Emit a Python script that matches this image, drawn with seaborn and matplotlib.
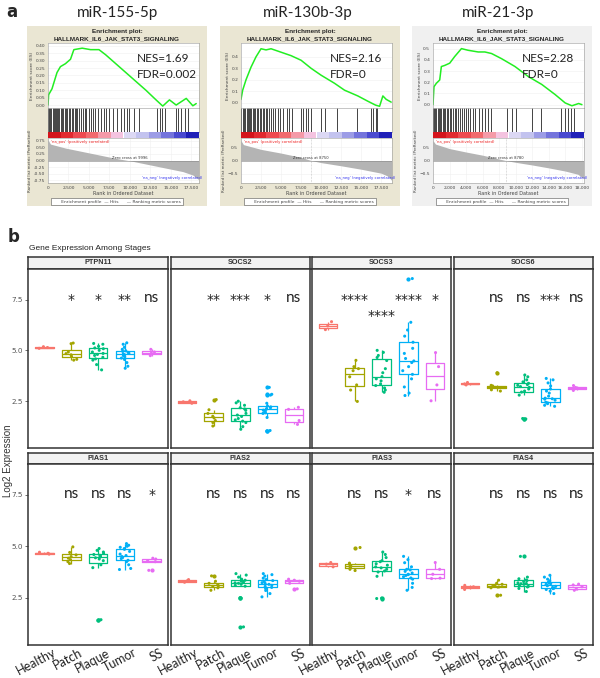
import numpy as np
import pandas as pd
import matplotlib
matplotlib.use("Agg")
import matplotlib.pyplot as plt
import matplotlib.transforms as mtransforms
import seaborn as sns

np.random.seed(7)  # only for strip jitter

W, H = 600, 678

# ---------------- panel a: GSEA data ----------------
gsea_titles = ["miR-155-5p", "miR-130b-3p", "miR-21-3p"]
gsea_nes = ["NES=1.69", "NES=2.16", "NES=2.28"]
gsea_fdr = ["FDR=0.002", "FDR=0", "FDR=0"]

es1_rank = [0, 80, 490, 1100, 1520, 2130, 2750, 3160, 4180, 5200, 6230, 7050,
            8690, 10330, 11970, 13200, 14020, 14840, 15660, 16890, 17700, 18110]
es1_score = [0.0, 0.07, 0.11, 0.22, 0.26, 0.28, 0.31, 0.375, 0.385, 0.375, 0.375, 0.34,
             0.26, 0.18, 0.10, 0.035, -0.007, 0.035, 0.0, 0.045, -0.005, 0.01]
es2_rank = [0, 210, 625, 1250, 1875, 2500, 3125, 3750, 5000, 6250, 7500, 8750,
            10000, 11670, 12920, 14580, 15830, 16800, 17300, 17710, 18125, 18750]
es2_score = [0.03, 0.11, 0.20, 0.31, 0.40, 0.47, 0.46, 0.47, 0.44, 0.41, 0.37, 0.30,
             0.24, 0.17, 0.11, 0.06, 0.014, -0.02, -0.03, 0.06, 0.03, 0.006]
es3_rank = [0, 120, 400, 810, 1010, 1420, 2020, 2630, 3440, 4250, 5460, 6270,
            7080, 8290, 9910, 11530, 13150, 14760, 15980, 16790, 17600, 18000]
es3_score = [0.0, 0.16, 0.19, 0.22, 0.34, 0.35, 0.37, 0.43, 0.50, 0.485, 0.47, 0.47,
             0.456, 0.41, 0.34, 0.25, 0.18, 0.09, 0.015, -0.01, 0.01, 0.0]

hits1 = [40, 150, 300, 420, 560, 700, 830, 980, 1100, 1250, 1400, 1560, 1700, 1880,
         2050, 2200, 2380, 2520, 2700, 2880, 3050, 3250, 3420, 3600, 3820, 4000, 4250,
         4480, 4700, 4950, 5250, 5500, 5800, 6150, 6450, 6800, 7100, 7500, 7900, 8400,
         8900, 9300, 9650, 9950, 10500, 11100, 13300, 13650, 13900, 14250, 15600,
         15900, 16300, 16700, 17150]
hits2 = [50, 200, 380, 520, 700, 860, 1000, 1150, 1300, 1480, 1650, 1800, 2000, 2150,
         2350, 2550, 2700, 2900, 3100, 3300, 3550, 3750, 4000, 4300, 4600, 4900, 5300,
         5700, 6000, 6400, 7500, 7800, 8100, 8400, 8800, 10000, 10500, 12000, 14500,
         16200, 16500, 16800, 17000]
hits3 = [40, 150, 280, 420, 560, 720, 860, 1000, 1180, 1350, 1500, 1680, 1850, 2000,
         2200, 2400, 2600, 2800, 3000, 3250, 3500, 3700, 3950, 4200, 4500, 4800, 5100,
         5500, 5900, 6300, 6700, 7000, 9000, 9500, 10000, 12000, 13000, 15500, 15900,
         16300, 16700, 17000]

metric1_rank = [0, 300, 2130, 4180, 6230, 8280, 10330, 12380, 14430, 16480, 17700, 18400]
metric1_val = [0.78, 0.62, 0.47, 0.34, 0.21, 0.08, -0.03, -0.16, -0.29, -0.42, -0.55, -0.72]
metric2_rank = [0, 300, 2500, 5000, 7500, 8750, 10000, 12500, 15000, 17500, 18400, 18800]
metric2_val = [0.75, 0.60, 0.42, 0.28, 0.12, 0.0, -0.08, -0.20, -0.33, -0.48, -0.60, -0.75]
metric3_rank = [0, 300, 2000, 4000, 6000, 8780, 10000, 12000, 14000, 16000, 17500, 18200]
metric3_val = [0.75, 0.62, 0.45, 0.32, 0.20, 0.0, -0.07, -0.17, -0.28, -0.40, -0.52, -0.68]

zero_cross = ["Zero cross at 9996", "Zero cross at 8750", "Zero cross at 8780"]
bar_colors = ["#d4141c", "#e22a30", "#ee4a50", "#f26a6e", "#f59aa8", "#f4c3e0",
              "#dcd8f4", "#c3c3ef", "#9c9ce6", "#7474dc", "#4a4ad0", "#2020b8"]

rank_ticks_a = [0, 2500, 5000, 7500, 10000, 12500, 15000, 17500]
rank_labels_a = ["0", "2,500", "5,000", "7,500", "10,000", "12,500", "15,000", "17,500"]
rank_ticks_b = [0, 2000, 4000, 6000, 8000, 10000, 12000, 14000, 16000, 18000]
rank_labels_b = ["0", "2,000", "4,000", "6,000", "8,000", "10,000", "12,000",
                 "14,000", "16,000", "18,000"]
es_ticks1 = [0.0, 0.05, 0.10, 0.15, 0.20, 0.25, 0.30, 0.35, 0.40]
es_ticks2 = [0.0, 0.1, 0.2, 0.3, 0.4]
es_ticks3 = [0.0, 0.1, 0.2, 0.3, 0.4, 0.5]
metric_ticks1 = [0.75, 0.50, 0.25, 0.0, -0.25, -0.50, -0.75]
metric_ticks2 = [0.5, 0.0, -0.5]

# ---------------- panel b: expression data ----------------
stages = ["Healthy", "Patch", "Plaque", "Tumor", "SS"]
stage_colors = ["#F8766D", "#A3A500", "#00BF7D", "#00B0F6", "#E76BF3"]
genes = ["PTPN11", "SOCS2", "SOCS3", "SOCS6", "PIAS1", "PIAS2", "PIAS3", "PIAS4"]

PTPN11 = {"Healthy": [5.10, 5.14, 5.18],
          "Patch": [4.52, 4.56, 4.70, 4.78, 4.84, 4.92, 5.33, 5.36],
          "Plaque": [4.04, 4.30, 4.52, 4.58, 4.66, 4.75, 4.80, 4.85, 4.92, 5.00, 5.08, 5.12, 5.20, 5.30, 5.34],
          "Tumor": [4.12, 4.22, 4.40, 4.55, 4.62, 4.68, 4.74, 4.78, 4.82, 4.86, 4.90, 4.95, 4.98, 5.05, 5.15, 5.30, 5.37],
          "SS": [4.74, 4.86, 4.92, 5.05]}
SOCS2 = {"Healthy": [2.40, 2.47, 2.52],
         "Patch": [1.28, 1.45, 1.55, 1.68, 1.76, 1.90, 2.08, 2.58],
         "Plaque": [1.12, 1.25, 1.45, 1.52, 1.58, 1.65, 1.75, 1.82, 1.90, 2.05, 2.12, 2.18, 2.30, 2.42, 2.50],
         "Tumor": [1.04, 1.06, 1.70, 1.90, 1.93, 1.98, 2.02, 2.06, 2.10, 2.14, 2.18, 2.22, 2.26, 2.40, 2.80, 2.84, 3.18],
         "SS": [1.36, 1.55, 2.10, 2.20]}
SOCS3 = {"Healthy": [6.02, 6.20, 6.41],
         "Patch": [2.49, 3.05, 3.30, 3.70, 4.00, 4.10, 4.20, 4.51],
         "Plaque": [2.94, 3.05, 3.15, 3.27, 3.35, 3.50, 3.60, 3.71, 3.90, 4.10, 4.50, 4.65, 4.75, 4.90, 5.00],
         "Tumor": [2.78, 2.90, 3.20, 3.60, 3.82, 4.00, 4.20, 4.40, 4.48, 4.60, 4.85, 5.10, 5.40, 5.70, 6.00, 6.38, 8.53],
         "SS": [2.52, 3.30, 4.20, 4.89]}
SOCS6 = {"Healthy": [3.30, 3.35, 3.42],
         "Patch": [3.00, 3.06, 3.15, 3.18, 3.20, 3.25, 3.28, 3.90],
         "Plaque": [1.63, 1.65, 2.80, 2.95, 3.00, 3.10, 3.18, 3.22, 3.28, 3.32, 3.38, 3.45, 3.55, 3.70, 3.79],
         "Tumor": [2.25, 2.30, 2.38, 2.42, 2.45, 2.55, 2.60, 2.62, 2.65, 2.75, 2.90, 3.00, 3.10, 3.25, 3.40, 3.55, 3.62],
         "SS": [3.03, 3.12, 3.18, 3.27]}
PIAS1 = {"Healthy": [4.62, 4.66, 4.71],
         "Patch": [4.16, 4.25, 4.35, 4.42, 4.50, 4.58, 4.70, 4.97],
         "Plaque": [1.41, 1.43, 3.96, 4.10, 4.30, 4.38, 4.44, 4.48, 4.52, 4.56, 4.60, 4.65, 4.72, 4.80, 4.89],
         "Tumor": [3.87, 3.92, 4.10, 4.25, 4.32, 4.40, 4.45, 4.50, 4.55, 4.62, 4.75, 4.85, 4.89, 4.95, 5.00, 5.05, 5.13],
         "SS": [3.83, 4.25, 4.30, 4.38, 4.42]}
PIAS2 = {"Healthy": [3.25, 3.32, 3.38],
         "Patch": [2.86, 2.98, 3.05, 3.08, 3.12, 3.20, 3.30, 3.56],
         "Plaque": [1.08, 2.49, 2.50, 3.06, 3.10, 3.15, 3.20, 3.22, 3.26, 3.30, 3.35, 3.40, 3.50, 3.60, 3.67],
         "Tumor": [2.54, 2.70, 2.85, 2.95, 3.00, 3.05, 3.10, 3.15, 3.19, 3.23, 3.28, 3.33, 3.38, 3.45, 3.55, 3.62, 3.67],
         "SS": [2.93, 3.20, 3.30, 3.35, 3.40]}
PIAS3 = {"Healthy": [4.00, 4.13, 4.21],
         "Patch": [3.82, 3.88, 3.95, 4.00, 4.06, 4.12, 4.18, 4.94],
         "Plaque": [2.46, 2.48, 3.54, 3.75, 3.80, 3.88, 3.95, 4.00, 4.08, 4.15, 4.25, 4.30, 4.45, 4.60, 4.72],
         "Tumor": [2.86, 3.00, 3.20, 3.40, 3.46, 3.52, 3.58, 3.62, 3.64, 3.70, 3.78, 3.85, 3.88, 4.00, 4.20, 4.35, 4.51],
         "SS": [3.43, 3.45, 3.64, 3.88, 4.21]}
PIAS4 = {"Healthy": [2.90, 3.03, 3.10],
         "Patch": [2.62, 2.98, 3.02, 3.06, 3.10, 3.15, 3.20, 3.35],
         "Plaque": [2.80, 2.95, 3.02, 3.05, 3.10, 3.15, 3.18, 3.19, 3.22, 3.28, 3.33, 3.36, 3.42, 3.50, 4.51],
         "Tumor": [2.70, 2.82, 2.90, 2.94, 2.96, 3.00, 3.05, 3.08, 3.11, 3.15, 3.18, 3.22, 3.27, 3.32, 3.40, 3.50, 3.59],
         "SS": [2.86, 2.92, 3.03, 3.12, 3.16]}

sig_labels = [["", "*", "*", "**", "ns"],
              ["", "**", "***", "*", "ns"],
              ["", "****", "****", "****", "*"],
              ["", "ns", "ns", "***", "ns"],
              ["", "ns", "ns", "ns", "*"],
              ["", "ns", "ns", "ns", "ns"],
              ["", "ns", "ns", "*", "ns"],
              ["", "ns", "ns", "ns", "ns"]]
sig_y = [[7.55] * 5, [7.55] * 5, [7.55, 7.55, 6.75, 7.55, 7.55], [7.55] * 5,
         [7.55] * 5, [7.55] * 5, [7.55] * 5, [7.55] * 5]

gene_data = [PTPN11, SOCS2, SOCS3, SOCS6, PIAS1, PIAS2, PIAS3, PIAS4]
rows = []
for g, d in zip(genes, gene_data):
    for s in stages:
        for v in d[s]:
            rows.append((g, s, v))
df = pd.DataFrame(rows, columns=["gene", "stage", "value"])

# ---------------- figure ----------------
sns.set_theme(style="white")
plt.rcParams["font.family"] = ["DejaVu Sans"]
fig = plt.figure(figsize=(W / 100, H / 100), dpi=100)


def px_axes(left, top, right, bottom):
    return fig.add_axes([left / W, 1 - bottom / H, (right - left) / W, (bottom - top) / H])


def fx(x):
    return x / W


def fy(y):
    return 1 - y / H


big_font = "Lato"

# ----- panel a -----
fig.text(fx(6), fy(12), "a", fontsize=12, fontweight="bold", va="center")
panel_left = [27, 220, 412]
panel_bg = ["#EAE6D3", "#EAE6D3", "#F0F0F0"]
title_x = [117, 308, 498]
es_sets = [(es1_rank, es1_score), (es2_rank, es2_score), (es3_rank, es3_score)]
hit_sets = [hits1, hits2, hits3]
metric_sets = [(metric1_rank, metric1_val), (metric2_rank, metric2_val), (metric3_rank, metric3_val)]
es_ticks = [es_ticks1, es_ticks2, es_ticks3]
es_tick_fmt = ["{:.2f}", "{:.1f}", "{:.1f}"]
es_ylim = [(-0.02, 0.42), (-0.045, 0.52), (-0.03, 0.55)]
metric_ticks = [metric_ticks1, metric_ticks2, metric_ticks2]
rank_ticks = [(rank_ticks_a, rank_labels_a), (rank_ticks_a, rank_labels_a), (rank_ticks_b, rank_labels_b)]
xmax = [18450, 18850, 18250]
zero_rank = [9996, 8750, 8780]

tiny = 3.2
for i in range(3):
    pl = panel_left[i]
    bg = px_axes(pl, 26, pl + 180, 206)
    bg.set_facecolor(panel_bg[i])
    bg.set_xticks([])
    bg.set_yticks([])
    for sp in bg.spines.values():
        sp.set_visible(False)
    fig.text(fx(title_x[i]), fy(13), gsea_titles[i], fontsize=11, family=big_font,
             ha="center", va="center", color="#222222")
    fig.text(fx(pl + 90), fy(31), "Enrichment plot:", fontsize=4.6, fontweight="bold",
             ha="center", va="center", family="Liberation Sans")
    fig.text(fx(pl + 90), fy(39), "HALLMARK_IL6_JAK_STAT3_SIGNALING", fontsize=4.6,
             fontweight="bold", ha="center", va="center", family="Liberation Sans")

    left, right = pl + 21, pl + 172
    # ES curve
    ax_es = px_axes(left, 43, right, 108)
    ax_es.set_facecolor("white")
    sns.lineplot(x=es_sets[i][0], y=es_sets[i][1], ax=ax_es, color="#22EE22", linewidth=1.1)
    ax_es.set_xlim(0, xmax[i])
    ax_es.set_ylim(*es_ylim[i])
    ax_es.set_xticks([])
    ax_es.set_yticks(es_ticks[i])
    ax_es.set_yticklabels([es_tick_fmt[i].format(t) for t in es_ticks[i]])
    ax_es.tick_params(axis="y", labelsize=tiny, length=1, pad=1, colors="#444444")
    ax_es.set_ylabel("Enrichment score (ES)", fontsize=tiny, labelpad=1, color="#444444")
    ax_es.grid(True, color="#f0f0f0", linewidth=0.4)
    for sp in ax_es.spines.values():
        sp.set_linewidth(0.4)
        sp.set_color("#999999")

    # hits
    ax_h = px_axes(left, 108, right, 132)
    ax_h.vlines(hit_sets[i], 0, 1, color="#111111", linewidth=0.55)
    ax_h.set_xlim(0, xmax[i])
    ax_h.set_ylim(0, 1)
    ax_h.set_xticks([])
    ax_h.set_yticks([])
    for sp in ax_h.spines.values():
        sp.set_linewidth(0.4)
        sp.set_color("#999999")

    # ranked list colour bar
    ax_c = px_axes(left, 132, right, 138)
    nb = len(bar_colors)
    for k, c in enumerate(bar_colors):
        ax_c.axvspan(k, k + 1, color=c, linewidth=0)
    ax_c.set_xlim(0, nb)
    ax_c.set_xticks([])
    ax_c.set_yticks([])
    for sp in ax_c.spines.values():
        sp.set_visible(False)

    # ranked metric
    ax_m = px_axes(left, 138, right, 183)
    mr, mv = metric_sets[i]
    ax_m.fill_between(mr, mv, 0, color="#b4b4b4", linewidth=0)
    ax_m.axhline(0, color="#888888", linewidth=0.4)
    if i > 0:
        ax_m.axvline(zero_rank[i], color="#999999", linewidth=0.4, linestyle=":")
    ax_m.set_xlim(0, xmax[i])
    ax_m.set_ylim(-0.85, 0.85)
    ax_m.set_yticks(metric_ticks[i])
    if i == 0:
        ax_m.set_yticklabels(["{:.2f}".format(t) for t in metric_ticks[i]])
    ax_m.set_xticks(rank_ticks[i][0])
    ax_m.set_xticklabels(rank_ticks[i][1])
    ax_m.tick_params(labelsize=tiny, length=1, pad=1, colors="#444444")
    ax_m.set_ylabel("Ranked list metric (PreRanked)", fontsize=tiny * 0.9, labelpad=1, color="#444444")
    ax_m.set_xlabel("Rank in Ordered Dataset", fontsize=tiny * 1.1, labelpad=1, color="#444444")
    ax_m.grid(True, color="#f0f0f0", linewidth=0.4)
    ax_m.text(0.02, 0.95, "'na_pos' (positively correlated)", transform=ax_m.transAxes,
              fontsize=tiny * 0.85, color="#ee2222", va="top")
    ax_m.text(0.62, 0.06, "'na_neg' (negatively correlated)", transform=ax_m.transAxes,
              fontsize=tiny * 0.85, color="#3333ee", va="bottom")
    ax_m.text(zero_rank[i], 0.02, zero_cross[i], fontsize=tiny * 0.85, color="#333333",
              ha="center", va="bottom")
    for sp in ax_m.spines.values():
        sp.set_linewidth(0.4)
        sp.set_color("#999999")

    # NES / FDR
    fig.text(fx(pl + 110), fy(59), gsea_nes[i], fontsize=8.5, family=big_font, va="center", color="#222222")
    fig.text(fx(pl + 110), fy(75), gsea_fdr[i], fontsize=8.5, family=big_font, va="center", color="#222222")

    # legend box
    fig.text(fx(pl + 90), fy(201.5), "      Enrichment profile  \u2014 Hits      \u2014 Ranking metric scores",
             fontsize=tiny, ha="center", va="center", color="#444444",
             bbox=dict(facecolor="white", edgecolor="#555555", linewidth=0.4, pad=1.2))
    fig.add_artist(plt.Line2D([fx(pl + 31), fx(pl + 37)], [fy(201.5), fy(201.5)],
                              color="#22EE22", linewidth=0.9))

# ----- panel b -----
fig.text(fx(8), fy(237), "b", fontsize=12, fontweight="bold", va="center")
fig.text(fx(29), fy(248), "Gene Expression Among Stages", fontsize=6.0,
         family="Liberation Sans", va="center", color="#222222")
fig.text(fx(8), fy(461), "Log2 Expression", fontsize=7, family="Liberation Sans",
         rotation=90, ha="center", va="center", color="#333333")

col_edges = [(28, 168), (171, 310), (312, 451), (454, 593)]
row_edges = [(257, 269, 448), (453, 464, 645)]
label_shift = mtransforms.ScaledTranslation(8 / 100, 0, fig.dpi_scale_trans)

for gi, gene in enumerate(genes):
    r, c = divmod(gi, 4)
    x0, x1 = col_edges[c]
    st, top, bot = row_edges[r]

    strip = px_axes(x0, st, x1, top)
    strip.set_facecolor("#F2F2F2")
    strip.set_xticks([])
    strip.set_yticks([])
    for sp in strip.spines.values():
        sp.set_linewidth(1.1)
        sp.set_color("#333333")
    strip.text(0.5, 0.5, gene, transform=strip.transAxes, ha="center", va="center",
               fontsize=5.2, fontweight="bold", family="Liberation Sans", color="#333333")

    ax = px_axes(x0, top, x1, bot)
    sub = df[df["gene"] == gene]
    sns.boxplot(data=sub, x="stage", y="value", hue="stage", order=stages, hue_order=stages,
                palette=stage_colors, fill=False, width=0.7, linewidth=0.9, showcaps=False,
                fliersize=2.0, legend=False, ax=ax)
    for ln in ax.lines:
        if ln.get_marker() not in (None, "None", "", " "):
            ln.set_marker("o")
            ln.set_markerfacecolor(ln.get_markeredgecolor())
    sns.stripplot(data=sub, x="stage", y="value", hue="stage", order=stages, hue_order=stages,
                  palette=stage_colors, size=2.2, jitter=0.22, legend=False, ax=ax)
    ax.set_xlim(-0.6, 4.6)
    ax.set_ylim(0.2, 9.0)
    ax.set_xlabel("")
    ax.set_ylabel("")
    ax.set_facecolor("white")
    for sp in ax.spines.values():
        sp.set_linewidth(1.1)
        sp.set_color("#333333")
    if c == 0:
        ax.set_yticks([2.5, 5.0, 7.5])
        ax.set_yticklabels(["2.5", "5.0", "7.5"])
        ax.tick_params(axis="y", labelsize=5.2, length=2, width=0.6, pad=1.5,
                       colors="#555555", left=True)
    else:
        ax.set_yticks([])
    if r == 1:
        ax.set_xticks(range(5))
        ax.set_xticklabels(stages, rotation=28, ha="right", va="top",
                           rotation_mode="anchor", fontsize=9, family=big_font, color="#222222")
        ax.tick_params(axis="x", length=0, pad=1)
        for tl in ax.get_xticklabels():
            tl.set_transform(tl.get_transform() + label_shift)
    else:
        ax.set_xticks([])

    for k, lab in enumerate(sig_labels[gi]):
        if not lab:
            continue
        if lab == "ns":
            ax.text(k, sig_y[gi][k], lab, ha="center", va="center", fontsize=11,
                    family=big_font, color="#222222")
        else:
            ax.text(k, sig_y[gi][k] - 0.05, lab, ha="center", va="center", fontsize=10,
                    family="DejaVu Sans", color="#222222")

fig.savefig("out.png", dpi=100, facecolor="white")
